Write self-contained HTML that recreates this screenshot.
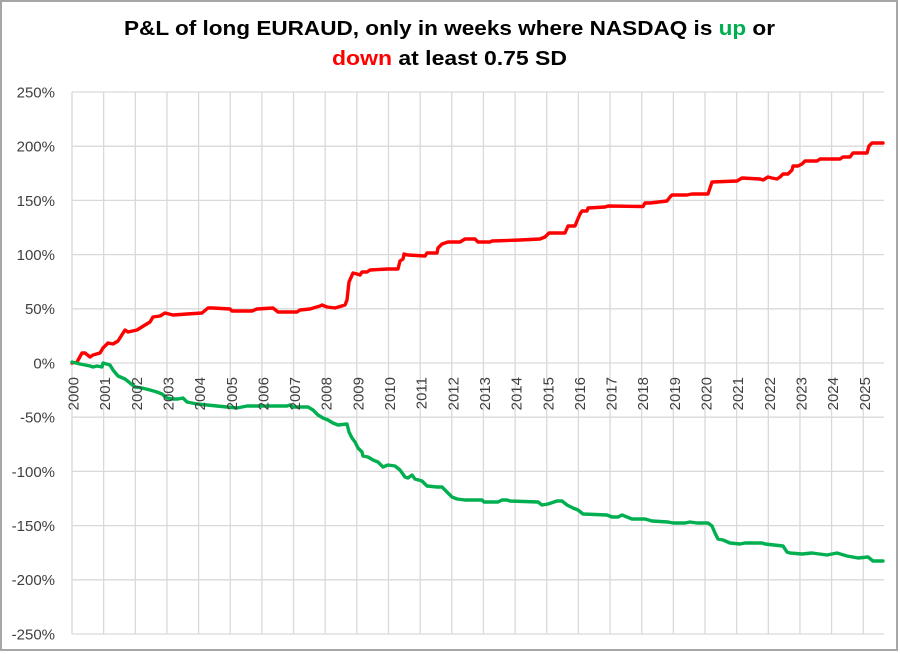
<!DOCTYPE html>
<html>
<head>
<meta charset="utf-8">
<style>
  html, body { margin: 0; padding: 0; background: #ffffff; }
  svg { display: block; }
  .tick { font-family: "Liberation Sans", "DejaVu Sans", sans-serif; font-size: 15px; fill: #404040; }
  .title { font-family: "Liberation Sans", "DejaVu Sans", sans-serif; font-size: 20px; font-weight: bold; fill: #000; }
</style>
</head>
<body>
<svg width="900" height="654" viewBox="0 0 900 654" xmlns="http://www.w3.org/2000/svg">
  <rect x="0" y="0" width="900" height="654" fill="#ffffff"/>
  <rect x="1" y="1" width="896" height="649" fill="#ffffff" stroke="#a6a6a6" stroke-width="2"/>

  <!-- Title -->
  <text class="title" x="449.5" y="35" text-anchor="middle" textLength="651" lengthAdjust="spacingAndGlyphs">P&amp;L of long EURAUD, only in weeks where NASDAQ is <tspan fill="#00b050">up</tspan> or</text>
  <text class="title" x="449.5" y="65" text-anchor="middle" textLength="235" lengthAdjust="spacingAndGlyphs"><tspan fill="#ff0000">down</tspan> at least 0.75 SD</text>

  <!-- Gridlines -->
  <g stroke="#d9d9d9" stroke-width="1.3" fill="none">
    <line x1="72" y1="92" x2="884" y2="92"/>
    <line x1="72" y1="146.2" x2="884" y2="146.2"/>
    <line x1="72" y1="200.4" x2="884" y2="200.4"/>
    <line x1="72" y1="254.6" x2="884" y2="254.6"/>
    <line x1="72" y1="308.8" x2="884" y2="308.8"/>
    <line x1="72" y1="363" x2="884" y2="363"/>
    <line x1="72" y1="417.2" x2="884" y2="417.2"/>
    <line x1="72" y1="471.4" x2="884" y2="471.4"/>
    <line x1="72" y1="525.6" x2="884" y2="525.6"/>
    <line x1="72" y1="579.8" x2="884" y2="579.8"/>
    <line x1="72" y1="634" x2="884" y2="634"/>

    <line x1="72" y1="92" x2="72" y2="634"/>
    <line x1="103.65" y1="92" x2="103.65" y2="634"/>
    <line x1="135.3" y1="92" x2="135.3" y2="634"/>
    <line x1="166.95" y1="92" x2="166.95" y2="634"/>
    <line x1="198.6" y1="92" x2="198.6" y2="634"/>
    <line x1="230.25" y1="92" x2="230.25" y2="634"/>
    <line x1="261.9" y1="92" x2="261.9" y2="634"/>
    <line x1="293.55" y1="92" x2="293.55" y2="634"/>
    <line x1="325.2" y1="92" x2="325.2" y2="634"/>
    <line x1="356.85" y1="92" x2="356.85" y2="634"/>
    <line x1="388.5" y1="92" x2="388.5" y2="634"/>
    <line x1="420.15" y1="92" x2="420.15" y2="634"/>
    <line x1="451.8" y1="92" x2="451.8" y2="634"/>
    <line x1="483.45" y1="92" x2="483.45" y2="634"/>
    <line x1="515.1" y1="92" x2="515.1" y2="634"/>
    <line x1="546.75" y1="92" x2="546.75" y2="634"/>
    <line x1="578.4" y1="92" x2="578.4" y2="634"/>
    <line x1="610.05" y1="92" x2="610.05" y2="634"/>
    <line x1="641.7" y1="92" x2="641.7" y2="634"/>
    <line x1="673.35" y1="92" x2="673.35" y2="634"/>
    <line x1="705" y1="92" x2="705" y2="634"/>
    <line x1="736.65" y1="92" x2="736.65" y2="634"/>
    <line x1="768.3" y1="92" x2="768.3" y2="634"/>
    <line x1="799.95" y1="92" x2="799.95" y2="634"/>
    <line x1="831.6" y1="92" x2="831.6" y2="634"/>
    <line x1="863.25" y1="92" x2="863.25" y2="634"/>
  </g>

  <!-- Y axis labels -->
  <g class="tick" text-anchor="end">
    <text x="55" y="97.4">250%</text>
    <text x="55" y="151.6">200%</text>
    <text x="55" y="205.8">150%</text>
    <text x="55" y="260">100%</text>
    <text x="55" y="314.2">50%</text>
    <text x="55" y="368.4">0%</text>
    <text x="55" y="422.6">-50%</text>
    <text x="55" y="476.8">-100%</text>
    <text x="55" y="531">-150%</text>
    <text x="55" y="585.2">-200%</text>
    <text x="55" y="639.4">-250%</text>
  </g>

  <!-- Series -->
  <polyline fill="none" stroke="#ff0000" stroke-width="3.4" stroke-linejoin="round" stroke-linecap="round"
    points="72,363 77,362 82,353 85,353 90,357 93,355 100,353 103,348 108,343 113,344 118,341 125,330 128,332 137,330 145,325 150,322 153,317 160,316 165,313 173,315 187,314 202,313 208,308 213,308 230,309 232,311 252,311 257,309 273,308 278,312 297,312 300,310 310,309 320,306 322,305 327,307 335,308 345,305 347,300 349,282 353,273 357,274 360,275 362,272 367,272 370,270 388,269 398,269 400,261 403,259 404,254 408,255 425,256 427,253 437,253 438,248 442,244 448,242 460,242 465,239 475,239 478,242 490,242 492,241 520,240 540,239 545,237 549,233 565,233 568,226 575,226 577,221 580,214 582,211 587,211 588,208 605,207 608,206 643,206.5 645,203 650,203 667,201 670,197 672,195 687,195 692,194 708,194 712,182 737,181 742,178 760,179 763,180 768,177 772,178 777,179 780,177 783,174 788,174 792,170 793,166 798,166 802,164 805,161 817,161 820,159 840,159 843,157 850,157 853,153 867,153 869,146 872,143 883,143"/>

  <polyline fill="none" stroke="#00b050" stroke-width="3.4" stroke-linejoin="round" stroke-linecap="round"
    points="72,362 80,364 85,365 90,366 93,367 97,366 102,367 103,363 110,365 113,370 118,376 125,379 130,383 135,387 142,388 150,390 157,392 162,394 167,398 173,399 178,399 183,398 187,402 192,403 197,404 207,405 217,406 227,407 237,408 247,406 267,406 287,406 290,405 293,407 308,407 313,410 318,415 323,418 328,420 333,423 338,425 347,424 349,432 352,438 355,442 358,448 362,452 363,456 368,457 373,460 378,462 383,467 388,465 395,466 400,470 405,477 408,478 412,475 415,479 422,481 427,486 437,487 442,487 447,492 452,497 457,499 465,500 482,500 484,502 498,502 502,500 507,500 510,501 538,502 542,505 548,504 557,501 562,501 567,505 573,508 578,510 583,514 607,515 612,517 618,517 622,515 627,517 632,519 645,519 652,521 668,522 673,523 685,523 690,522 697,523 708,523 712,526 715,533 718,539 723,540 730,543 740,544 745,543 762,543 765,544 783,546 787,552 790,553 802,554 812,553 827,555 837,553 847,556 858,558 868,557 873,561 883,561"/>

  <!-- X axis labels (rotated) -->
  <g class="tick" text-anchor="end">
    <text transform="translate(78.5,377) rotate(-90)">2000</text>
    <text transform="translate(110.15,377) rotate(-90)">2001</text>
    <text transform="translate(141.8,377) rotate(-90)">2002</text>
    <text transform="translate(173.45,377) rotate(-90)">2003</text>
    <text transform="translate(205.1,377) rotate(-90)">2004</text>
    <text transform="translate(236.75,377) rotate(-90)">2005</text>
    <text transform="translate(268.4,377) rotate(-90)">2006</text>
    <text transform="translate(300.05,377) rotate(-90)">2007</text>
    <text transform="translate(331.7,377) rotate(-90)">2008</text>
    <text transform="translate(363.35,377) rotate(-90)">2009</text>
    <text transform="translate(395,377) rotate(-90)">2010</text>
    <text transform="translate(426.65,377) rotate(-90)">2011</text>
    <text transform="translate(458.3,377) rotate(-90)">2012</text>
    <text transform="translate(489.95,377) rotate(-90)">2013</text>
    <text transform="translate(521.6,377) rotate(-90)">2014</text>
    <text transform="translate(553.25,377) rotate(-90)">2015</text>
    <text transform="translate(584.9,377) rotate(-90)">2016</text>
    <text transform="translate(616.55,377) rotate(-90)">2017</text>
    <text transform="translate(648.2,377) rotate(-90)">2018</text>
    <text transform="translate(679.85,377) rotate(-90)">2019</text>
    <text transform="translate(711.5,377) rotate(-90)">2020</text>
    <text transform="translate(743.15,377) rotate(-90)">2021</text>
    <text transform="translate(774.8,377) rotate(-90)">2022</text>
    <text transform="translate(806.45,377) rotate(-90)">2023</text>
    <text transform="translate(838.1,377) rotate(-90)">2024</text>
    <text transform="translate(869.75,377) rotate(-90)">2025</text>
  </g>
</svg>
</body>
</html>
